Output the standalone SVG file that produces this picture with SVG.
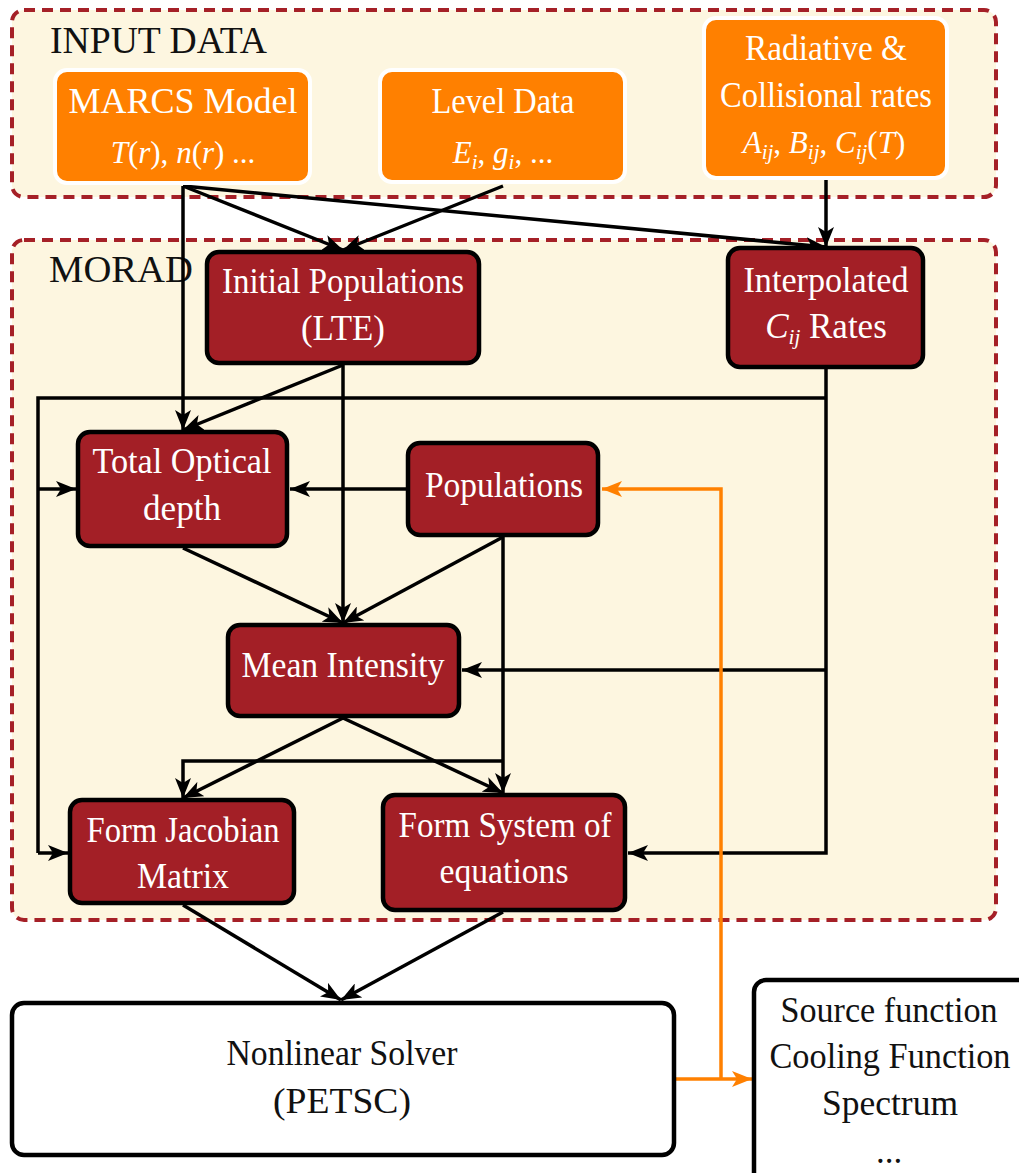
<svg xmlns="http://www.w3.org/2000/svg" width="1019" height="1173" viewBox="0 0 1019 1173">
<style>
  text { font-family: "Liberation Serif", "Times New Roman", serif; font-size: 35px; text-anchor: middle; }
  .region { fill: #fdf6e0; stroke: #a52027; stroke-width: 4; stroke-dasharray: 11 7; }
  .hdr { fill: #111; text-anchor: start; font-size: 37px; }
  .inp { fill: #ff8000; stroke: #ffffff; stroke-width: 4; }
  .proc { fill: #a31f26; stroke: #000; stroke-width: 4.5; }
  .out { fill: #ffffff; stroke: #000; stroke-width: 4.5; }
  .wt { fill: #ffffff; }
  .bt { fill: #111; }
  .math { font-size: 31px; }
  .it { font-style: italic; }
  .sub { font-size: 21px; font-style: italic; }
  .conn { fill: none; stroke: #000; stroke-width: 3.5; stroke-linejoin: miter; }
  .arr { marker-end: url(#ah); }
  .orange { fill: none; stroke: #ff8000; stroke-width: 3.5; }
</style>
<defs>
  <marker id="ah" markerUnits="userSpaceOnUse" markerWidth="22" markerHeight="16" refX="20" refY="8" orient="auto">
    <path d="M0,0 L20,8 L0,16 L5,8 z" fill="#000"/>
  </marker>
  <marker id="aho" markerUnits="userSpaceOnUse" markerWidth="22" markerHeight="16" refX="20" refY="8" orient="auto">
    <path d="M0,0 L20,8 L0,16 L5,8 z" fill="#ff8000"/>
  </marker>
</defs>

<g id="input-region">
  <rect class="region" x="12" y="10" width="984" height="187" rx="12"/>
  <text class="hdr" x="50" y="53" textLength="217" lengthAdjust="spacingAndGlyphs">INPUT DATA</text>
</g>
<g id="morad-region">
  <rect class="region" x="12" y="240" width="984" height="680" rx="12"/>
  <text class="hdr" x="49" y="282" textLength="144" lengthAdjust="spacingAndGlyphs">MORAD</text>
</g>

<g id="connectors">
  <path class="conn arr" d="M183,186 L183,430"/>
  <path class="conn arr" d="M183,186 L343,250"/>
  <path class="conn arr" d="M183,186 L826,247"/>
  <path class="conn arr" d="M503,186 L343,250"/>
  <path class="conn arr" d="M826,180 L826,247"/>
  <path class="conn arr" d="M343,365 L343,623"/>
  <path class="conn arr" d="M343,365 L183,430"/>
  <path class="conn arr" d="M826,368 L826,853 L628,853"/>
  <path class="conn" d="M826,398 L38,398 L38,853"/>
  <path class="conn arr" d="M38,853 L68,853"/>
  <path class="conn arr" d="M38,489 L76,489"/>
  <path class="conn arr" d="M826,670 L462,670"/>
  <path class="conn arr" d="M408,489 L290,489"/>
  <path class="conn arr" d="M503,537 L343,623"/>
  <path class="conn arr" d="M503,537 L503,793"/>
  <path class="conn arr" d="M503,761 L183,761 L183,798"/>
  <path class="conn arr" d="M183,548 L343,623"/>
  <path class="conn arr" d="M343,718 L183,798"/>
  <path class="conn arr" d="M343,718 L503,793"/>
  <path class="conn arr" d="M183,905 L341,1000"/>
  <path class="conn arr" d="M503,912 L341,1000"/>
  <path class="orange" d="M721,1079 L721,489 L602,489" marker-end="url(#aho)"/>
  <path class="orange" d="M675,1079 L752,1079" marker-end="url(#aho)"/>
</g>

<g id="marcs">
  <rect class="inp" x="55" y="70" width="255" height="113" rx="12"/>
  <text class="wt" x="183" y="113" textLength="229" lengthAdjust="spacingAndGlyphs">MARCS Model</text>
  <text class="wt math" x="183" y="163"><tspan class="it">T</tspan>(<tspan class="it">r</tspan>), <tspan class="it">n</tspan>(<tspan class="it">r</tspan>) ...</text>
</g>
<g id="level-data">
  <rect class="inp" x="380" y="70" width="245" height="112" rx="12"/>
  <text class="wt" x="503" y="113" textLength="143" lengthAdjust="spacingAndGlyphs">Level Data</text>
  <text class="wt math" x="503" y="163"><tspan class="it">E</tspan><tspan class="sub" dy="6">i</tspan><tspan dy="-6">, </tspan><tspan class="it">g</tspan><tspan class="sub" dy="6">i</tspan><tspan dy="-6">, ...</tspan></text>
</g>
<g id="rates">
  <rect class="inp" x="704" y="18" width="243" height="160" rx="12"/>
  <text class="wt" x="826" y="60" textLength="162" lengthAdjust="spacingAndGlyphs">Radiative &amp;</text>
  <text class="wt" x="826" y="107" textLength="212" lengthAdjust="spacingAndGlyphs">Collisional rates</text>
  <text class="wt math" x="824" y="153"><tspan class="it">A</tspan><tspan class="sub" dy="6">ij</tspan><tspan dy="-6">, </tspan><tspan class="it">B</tspan><tspan class="sub" dy="6">ij</tspan><tspan dy="-6">, </tspan><tspan class="it">C</tspan><tspan class="sub" dy="6">ij</tspan><tspan dy="-6">(</tspan><tspan class="it">T</tspan>)</text>
</g>

<g id="initial-populations">
  <rect class="proc" x="207" y="252" width="272" height="111" rx="12"/>
  <text class="wt" x="343" y="293" textLength="242" lengthAdjust="spacingAndGlyphs">Initial Populations</text>
  <text class="wt" x="343" y="340" textLength="84" lengthAdjust="spacingAndGlyphs">(LTE)</text>
</g>
<g id="interpolated-rates">
  <rect class="proc" x="728" y="248" width="195" height="119" rx="12"/>
  <text class="wt" x="826" y="292" textLength="165" lengthAdjust="spacingAndGlyphs">Interpolated</text>
  <text class="wt" x="826" y="338"><tspan class="it">C</tspan><tspan class="sub" dy="6">ij</tspan><tspan dy="-6"> Rates</tspan></text>
</g>
<g id="total-optical-depth">
  <rect class="proc" x="78" y="432" width="209" height="114" rx="12"/>
  <text class="wt" x="182" y="473" textLength="179" lengthAdjust="spacingAndGlyphs">Total Optical</text>
  <text class="wt" x="182" y="520" textLength="78" lengthAdjust="spacingAndGlyphs">depth</text>
</g>
<g id="populations">
  <rect class="proc" x="408" y="443" width="190" height="92" rx="12"/>
  <text class="wt" x="504" y="497" textLength="158" lengthAdjust="spacingAndGlyphs">Populations</text>
</g>
<g id="mean-intensity">
  <rect class="proc" x="228" y="625" width="231" height="91" rx="12"/>
  <text class="wt" x="343" y="677" textLength="203" lengthAdjust="spacingAndGlyphs">Mean Intensity</text>
</g>
<g id="form-jacobian">
  <rect class="proc" x="70" y="800" width="224" height="103" rx="12"/>
  <text class="wt" x="183" y="842" textLength="193" lengthAdjust="spacingAndGlyphs">Form Jacobian</text>
  <text class="wt" x="183" y="888" textLength="92" lengthAdjust="spacingAndGlyphs">Matrix</text>
</g>
<g id="form-system">
  <rect class="proc" x="383" y="795" width="242" height="115" rx="12"/>
  <text class="wt" x="505" y="837" textLength="213" lengthAdjust="spacingAndGlyphs">Form System of</text>
  <text class="wt" x="504" y="883" textLength="129" lengthAdjust="spacingAndGlyphs">equations</text>
</g>

<g id="nonlinear-solver">
  <rect class="out" x="12" y="1003" width="662" height="152" rx="12"/>
  <text class="bt" x="342" y="1065" textLength="231" lengthAdjust="spacingAndGlyphs">Nonlinear Solver</text>
  <text class="bt" x="342" y="1113" textLength="138" lengthAdjust="spacingAndGlyphs">(PETSC)</text>
</g>
<g id="outputs">
  <rect class="out" x="754" y="980" width="280" height="210" rx="12"/>
  <text class="bt" x="889" y="1022" textLength="217" lengthAdjust="spacingAndGlyphs">Source function</text>
  <text class="bt" x="890" y="1068" textLength="241" lengthAdjust="spacingAndGlyphs">Cooling Function</text>
  <text class="bt" x="890" y="1115" textLength="136" lengthAdjust="spacingAndGlyphs">Spectrum</text>
  <text class="bt" x="889" y="1163">...</text>
</g>
</svg>
